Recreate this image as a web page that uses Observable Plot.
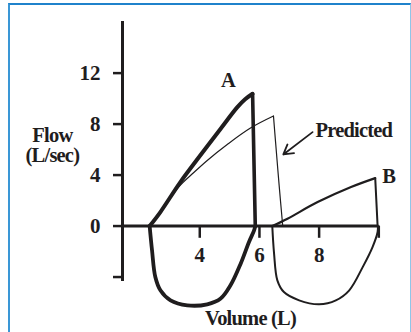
<!DOCTYPE html>
<html>
<head>
<meta charset="utf-8">
<script src="https://cdn.jsdelivr.net/npm/d3@7"></script>
<script src="https://cdn.jsdelivr.net/npm/@observablehq/plot@0.6"></script>
<style>
  html, body { margin: 0; padding: 0; background: #fff; overflow: hidden; }
  #wrap { position: relative; width: 411px; height: 332px; }
  #wrap svg { position: absolute; left: 0; top: 0; }
  #box {
    position: absolute; left: 8px; top: 3px; width: 400px; height: 360px;
    border-top: 2px solid #1f82cb; border-left: 2px solid #3a97d6;
    border-right: 1.5px solid #8fc6e8; pointer-events: none;
  }
</style>
</head>
<body>
<div id="wrap"><div id="box"></div></div>
<script>
// Flow–volume loops: [volume (L), flow (L/sec)]
// Loop A: expiration rise, sharp fall at end of expiration, inspiration below zero
const aRise = [[2.32, 0], [2.68, 1.10], [3.35, 3.45], [4.02, 5.55], [4.70, 7.64], [5.26, 9.33], [5.52, 9.95], [5.77, 10.38]];
const aFall = [[5.77, 10.38], [5.86, 0]];
const aInsp = [[2.32, 0], [2.40, -1.91], [2.51, -4.0], [2.68, -5.04], [3.02, -5.83], [3.58, -6.22],
               [4.25, -6.14], [4.70, -5.69], [5.03, -4.65], [5.37, -2.95], [5.65, -1.25], [5.82, -0.34], [5.86, 0]];

// Loop B
const bRise = [[6.43, 0], [6.94, 0.58], [7.95, 1.88], [9.07, 3.06], [9.88, 3.76]];
const bFall = [[9.88, 3.76], [9.96, 0]];
const bInsp = [[6.43, 0], [6.49, -2.16], [6.60, -4.26], [6.82, -5.18], [7.33, -5.83], [8.0, -6.14],
               [8.56, -5.83], [9.01, -5.04], [9.46, -3.22], [9.79, -1.65], [9.96, -0.47], [9.97, 0]];

// Predicted expiratory curve
const predRise = [[2.32, 0], [2.68, 1.10], [3.29, 3.06], [3.8, 4.2], [4.25, 5.15], [4.92, 6.4], [5.70, 7.69], [6.47, 8.63]];
const predFall = [[6.47, 8.63], [6.54, 6.59], [6.66, 3.19], [6.78, 0]];

// Axis ticks
const yTicks = [12, 8, 4, 0, -4];
const yTickLabels = ["12", "8", "4", "0", ""];
const xTicks = [4, 6, 8, 10];
const xTickLabels = ["4", "6", "8", ""];

const ink = "#1f1d1e";
const font = "Liberation Serif, Times New Roman, serif";

const vol = d => d[0];
const flow = d => d[1];

function seg(data, width, curve) {
  return Plot.line(data, {x: vol, y: flow, stroke: ink, strokeWidth: width, curve, strokeLinejoin: "round", strokeLinecap: "round"});
}

// word labels share one condensed bold serif look
const word = {fill: ink, fontSize: 20.5, fontWeight: "bold"};

const chart = Plot.plot({
  width: 411,
  height: 332,
  marginLeft: 122,
  marginRight: 32.7,
  marginTop: 21,
  marginBottom: 51,
  x: {domain: [1.41, 10], axis: null},
  y: {domain: [-4.35, 16.05], axis: null},
  style: {fontFamily: font, fontSize: "21px", fontWeight: "bold", color: ink, background: "transparent", overflow: "visible"},
  marks: [
    // axes
    Plot.ruleX([1.41], {stroke: ink, strokeWidth: 3}),
    Plot.ruleY([0], {stroke: ink, strokeWidth: 3}),
    Plot.axisY({ticks: yTicks, tickFormat: d => yTickLabels[yTicks.indexOf(d)], tickSize: 9, tickPadding: 13,
                strokeWidth: 2.5, stroke: ink, fill: ink, fontSize: 21, label: null}),
    Plot.ruleX(xTicks, {x: d => d, y1: () => 0, y2: () => -0.96, stroke: ink, strokeWidth: 2.5}),
    Plot.text(xTicks, {x: d => d, y: () => 0, dy: 29.7, text: (d, i) => xTickLabels[i], fill: ink, fontSize: 21}),

    // loops
    seg(predRise, 1.2, "catmull-rom"),
    seg(predFall, 1.2, "catmull-rom"),
    seg(aInsp, 3.8, "catmull-rom"),
    seg(aRise, 4, "catmull-rom"),
    seg(aFall, 3.6, "linear"),
    seg(bInsp, 2, "catmull-rom"),
    seg(bRise, 2.2, "catmull-rom"),
    seg(bFall, 2, "linear"),

    // annotations
    Plot.arrow([{x1: 7.78, y1: 7.37, x2: 6.80, y2: 5.62}],
      {x1: "x1", y1: "y1", x2: "x2", y2: "y2", bend: false, headLength: 9, strokeWidth: 1.8, stroke: ink}),
    Plot.text([{t: "A", x: 4.945, y: 11.39}, {t: "B", x: 10.33, y: 3.88}],
      {x: "x", y: "y", text: "t", ...word}),
    Plot.text([{t: "Predicted", x: 7.88, y: 7.51}],
      {x: "x", y: "y", text: "t", textAnchor: "start", ...word}),
    Plot.text([{t: "Flow\n(L/sec)", x: -0.94, y: 6.30}],
      {x: "x", y: "y", text: "t", lineHeight: 0.99, ...word}),
    Plot.text([{t: "Volume (L)", x: 5.70, y: -7.28}],
      {x: "x", y: "y", text: "t", ...word})
  ]
});

// tighten letter spacing of the word labels
chart.querySelectorAll("text").forEach(t => {
  if (/[A-Za-z]/.test(t.textContent)) t.style.letterSpacing = "-0.8px";
});

document.getElementById("wrap").insertBefore(chart, document.getElementById("box"));
</script>
</body>
</html>
